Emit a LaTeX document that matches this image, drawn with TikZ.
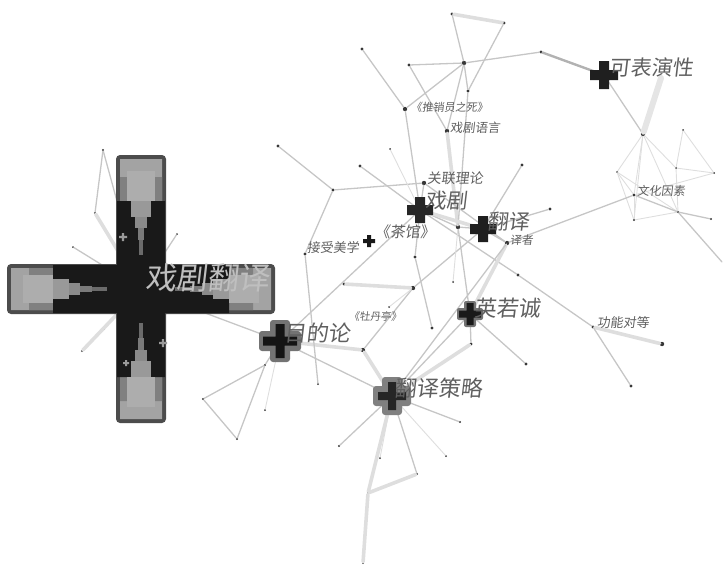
\documentclass[tikz,border=0pt]{standalone}
\usepackage{fontspec}
\newfontfamily\cjk[FakeSlant=0.12]{Noto Sans CJK SC}
\definecolor{Linkgray}{RGB}{198,198,198}
\definecolor{Bandgray}{RGB}{222,222,222}
\definecolor{Dotgray}{RGB}{55,55,55}
\definecolor{Labelgray}{RGB}{95,95,95}
% plus-shaped marker: centre, half length, half width, fill options
\newcommand{\citecross}[4]{\fill[#4] ([shift={(-#3,-#2)}]#1) rectangle ([shift={(#3,#2)}]#1) ([shift={(-#2,-#3)}]#1) rectangle ([shift={(#2,#3)}]#1);}

\begin{document}
\begin{tikzpicture}[x=1pt,y=-1pt,line cap=round,line join=round,
  dot/.style={circle,fill=Dotgray,inner sep=0pt,minimum size=3.2pt},
  bigdot/.style={dot,minimum size=4.4pt},
  link/.style={draw=Linkgray,line width=1.3pt},
  band/.style={draw=Bandgray,line width=3.6pt},
  faint/.style={draw=Bandgray,line width=0.9pt},
  lbl/.style={anchor=west,inner sep=0pt,text=Labelgray}]
\path[use as bounding box] (0,0) rectangle (725,565);

% cluster centres
\coordinate (big) at (141,289);
\coordinate (mudilun) at (280,341);
\coordinate (celue) at (392,396);
\coordinate (ying) at (470,314);
\coordinate (fanyi) at (483,229);
\coordinate (xiju) at (420,210);
\coordinate (biaoyan) at (604,75);
\coordinate (chaguan) at (369,241);
\coordinate (pma) at (123,237);
\coordinate (pmb) at (163,343);
\coordinate (pmc) at (126,363);

% keyword dots
\node[dot] (t1) at (452,14) {};
\node[dot] (t2) at (504,23) {};
\node[bigdot] (t3) at (464,63) {};
\node[dot] (t4) at (468,91) {};
\node[dot] (t5) at (409,65) {};
\node[dot] (t6) at (541,52) {};
\node[dot] (t7) at (362,49) {};
\node[bigdot] (tuixiao) at (405,109) {};
\node[bigdot] (xjyy) at (447,131) {};
\node[dot] (l1) at (278,146) {};
\node[dot] (l2) at (360,166) {};
\node[dot] (l3) at (333,190) {};
\node[dot,minimum size=2pt] (l4) at (390,149) {};
\node[bigdot] (glll) at (424,183) {};
\node[dot] (r1) at (522,165) {};
\node[dot] (r2) at (550,209) {};
\node[bigdot] (m1) at (458,227) {};
\node[bigdot] (yizhe) at (507,243) {};
\node[dot] (jsmx) at (305,254) {};
\node[dot] (c1) at (415,257) {};
\node[dot] (c2) at (518,275) {};
\node[dot,minimum size=2pt] (c3) at (453,282) {};
\node[dot] (c4) at (344,284) {};
\node[bigdot] (c5) at (413,288) {};
\node[dot,minimum size=2pt] (c6) at (389,307) {};
\node[dot] (c7) at (432,328) {};
\node[bigdot] (c8) at (363,350) {};
\node[dot] (c9) at (471,344) {};
\node[dot] (c10) at (526,364) {};
\node[dot] (gndd) at (593,327) {};
\node[bigdot] (g1) at (662,344) {};
\node[dot] (g2) at (631,386) {};
\node[bigdot] (w0) at (643,134) {};
\node[dot,minimum size=2pt] (w1) at (683,130) {};
\node[dot,minimum size=2pt] (w2) at (617,172) {};
\node[dot,minimum size=2pt] (w3) at (676,168) {};
\node[dot,minimum size=2pt] (w4) at (714,173) {};
\node[dot] (wenhua) at (634,195) {};
\node[dot,minimum size=2.4pt] (w5) at (634,220) {};
\node[dot,minimum size=2.4pt] (w6) at (678,212) {};
\node[dot,minimum size=2.4pt] (w7) at (711,219) {};
\coordinate (w8) at (722,262);
\node[dot,minimum size=2pt] (s1) at (318,384) {};
\node[dot,minimum size=2.4pt] (s2) at (460,422) {};
\node[dot,minimum size=2.4pt] (s3) at (339,446) {};
\node[dot,minimum size=2pt] (s4) at (380,458) {};
\node[dot,minimum size=2pt] (s5) at (446,456) {};
\node[dot,minimum size=2.4pt] (s6) at (417,474) {};
\node[dot,minimum size=2.4pt] (s7) at (368,493) {};
\node[dot,minimum size=2pt] (s8) at (363,563) {};
\node[dot,minimum size=2.4pt] (d1) at (265,365) {};
\node[dot,minimum size=2.4pt] (d2) at (203,399) {};
\node[dot,minimum size=2.4pt] (d3) at (237,439) {};
\node[dot,minimum size=2pt] (d4) at (265,410) {};
\node[dot,minimum size=2.4pt] (b1) at (103,150) {};
\node[dot,minimum size=2.4pt] (b2) at (95,213) {};
\node[dot,minimum size=2pt] (b3) at (73,247) {};
\node[dot,minimum size=2pt] (b4) at (177,234) {};
\node[dot,minimum size=2pt] (b5) at (104,329) {};
\node[dot,minimum size=2.4pt] (b6) at (82,351) {};

% links
\draw[band] (t1) -- (t2);
\draw[link] (t1) -- (t3);
\draw[link] (t3) -- (t4);
\draw[link] (t2) -- (t4);
\draw[link] (t3) -- (t5);
\draw[link] (t3) -- (t6);
\draw[band,draw=black!30,line width=2.4pt] (t6) -- (biaoyan);
\draw[link] (t5) -- (xjyy);
\draw[link] (t3) -- (tuixiao);
\draw[link] (t7) -- (tuixiao);
\draw[link] (tuixiao) -- (xiju);
\draw[link] (t3) -- (xjyy);
\draw[band] (xjyy) -- (m1);
\draw[link] (t4) -- (m1);
\draw[link] (biaoyan) -- (w0);
\draw[band,line width=6pt,draw=black!10] (661,78) -- (w0);
\draw[faint] (w0) -- (w2);
\draw[faint] (w0) -- (w3);
\draw[faint] (w0) -- (wenhua);
\draw[faint] (w0) -- (w5);
\draw[faint] (w0) -- (w6);
\draw[faint] (w1) -- (w4);
\draw[faint] (w1) -- (w3);
\draw[faint] (w2) -- (w6);
\draw[faint] (w2) -- (wenhua);
\draw[faint] (w3) -- (w6);
\draw[faint] (w3) -- (w4);
\draw[faint] (w4) -- (wenhua);
\draw[faint] (wenhua) -- (w5);
\draw[faint] (w5) -- (w6);
\draw[faint] (w2) -- (w5);
\draw[link] (wenhua) -- (w6);
\draw[link] (w6) -- (w7);
\draw[link] (w6) -- (w8);
\draw[link] (yizhe) -- (wenhua);
\draw[link] (r2) -- (fanyi);
\draw[link] (r1) -- (fanyi);
\draw[link] (fanyi) -- (yizhe);
\draw[link] (xiju) -- (m1);
\draw[link] (m1) -- (fanyi);
\draw[band] (xiju) -- (fanyi);
\draw[link] (glll) -- (xiju);
\draw[link] (glll) -- (yizhe);
\draw[link] (l1) -- (l3);
\draw[link] (l3) -- (glll);
\draw[link] (l3) -- (jsmx);
\draw[link] (l2) -- (xiju);
\draw[faint] (l4) -- (xiju);
\draw[link] (xiju) -- (c2);
\draw[link] (c2) -- (gndd);
\draw[band] (gndd) -- (g1);
\draw[link] (gndd) -- (g2);
\draw[link] (m1) -- (ying);
\draw[band] (yizhe) -- (ying);
\draw[link] (yizhe) -- (celue);
\draw[link] (c5) -- (fanyi);
\draw[band] (c4) -- (c5);
\draw[link] (c5) -- (c8);
\draw[link] (c1) -- (c7);
\draw[link] (c1) -- (xiju);
\draw[faint] (c6) -- (c5);
\draw[faint] (c3) -- (m1);
\draw[link] (mudilun) -- (xiju);
\draw[band] (mudilun) -- (c8);
\draw[link] (mudilun) -- (celue);
\draw[link] (mudilun) -- (big);
\draw[link] (mudilun) -- (d1);
\draw[link] (d1) -- (d2);
\draw[link] (d2) -- (d3);
\draw[link] (d3) -- (d1);
\draw[faint] (d4) -- (mudilun);
\draw[band] (c8) -- (celue);
\draw[band] (celue) -- (c9);
\draw[link] (c9) -- (ying);
\draw[link] (ying) -- (c10);
\draw[link] (ying) -- (celue);
\draw[link] (celue) -- (s2);
\draw[link] (celue) -- (s3);
\draw[faint] (celue) -- (s5);
\draw[link] (celue) -- (s6);
\draw[band] (celue) -- (s7);
\draw[band] (s6) -- (s7);
\draw[band] (s7) -- (s8);
\draw[faint] (s4) -- (celue);
\draw[link] (s1) -- (jsmx);
\draw[link] (b1) -- (b2);
\draw[link] (b1) -- (big);
\draw[band] (b2) -- (big);
\draw[link] (b3) -- (big);
\draw[link] (b4) -- (big);
\draw[link] (b5) -- (b6);
\draw[band] (b6) -- (big);

% big tree-ring cross
\citecross{big}{134}{25}{black!70,rounded corners=4pt}
\citecross{big}{130}{21}{black!36}
\citecross{big}{112}{21}{black!50}
\citecross{big}{88}{24}{black!90}
\foreach \r in {0,90,180,270}{
  \begin{scope}[shift={(big)},rotate=\r]
    \fill[black!32] (88,-14) rectangle (118,14);
    \fill[black!40] (72,-10) rectangle (88,10);
    \fill[black!46] (61,-6) rectangle (72,6);
    \fill[black!52] (49,-3) rectangle (61,3);
    \fill[black!58] (34,-2) rectangle (49,2);
  \end{scope}
}
\citecross{pma}{4}{1.2}{black!40}
\citecross{pmb}{4}{1.2}{black!40}
\citecross{pmc}{3}{1}{black!40}

% smaller crosses
\citecross{mudilun}{21}{10}{black!55,rounded corners=3pt}
\citecross{mudilun}{17}{4.5}{black!92}
\citecross{celue}{19}{10}{black!50,rounded corners=3pt}
\citecross{celue}{14}{4}{black!85}
\citecross{ying}{13}{6}{black!55,rounded corners=2pt}
\citecross{ying}{11}{3.5}{black!90}
\citecross{fanyi}{13}{5}{black!88}
\citecross{xiju}{13}{5}{black!85}
\citecross{biaoyan}{14}{5}{black!88}
\citecross{chaguan}{6}{2}{black!90}

% labels
\node[lbl,font=\cjk\fontsize{31}{31}\selectfont,text=black!25] (lbl-xjfy) at (145,278) {戏剧翻译};
\node[lbl,font=\cjk\fontsize{22}{22}\selectfont] (lbl-mudilun) at (284,333) {目的论};
\node[lbl,font=\cjk\fontsize{22}{22}\selectfont] (lbl-celue) at (394,388) {翻译策略};
\node[lbl,font=\cjk\fontsize{22}{22}\selectfont] (lbl-ying) at (474,308) {英若诚};
\node[lbl,font=\cjk\fontsize{21}{21}\selectfont] (lbl-fanyi) at (487,222) {翻译};
\node[lbl,font=\cjk\fontsize{21}{21}\selectfont] (lbl-xiju) at (425,201) {戏剧};
\node[lbl,font=\cjk\fontsize{21}{21}\selectfont] (lbl-biaoyan) at (609,67) {可表演性};
\node[lbl,font=\cjk\fontsize{15}{15}\selectfont] (lbl-chaguan) at (375,232) {《茶馆》};
\node[lbl,font=\cjk\fontsize{14}{14}\selectfont] (lbl-glll) at (427,178) {关联理论};
\node[lbl,font=\cjk\fontsize{11}{11}\selectfont] (lbl-tuixiao) at (411,107) {《推销员之死》};
\node[lbl,font=\cjk\fontsize{12.5}{12.5}\selectfont] (lbl-xjyy) at (450,128) {戏剧语言};
\node[lbl,font=\cjk\fontsize{13}{13}\selectfont] (lbl-jsmx) at (307,248) {接受美学};
\node[lbl,font=\cjk\fontsize{10.5}{10.5}\selectfont] (lbl-mdt) at (349,317) {《牡丹亭》};
\node[lbl,font=\cjk\fontsize{11.5}{11.5}\selectfont] (lbl-yizhe) at (510,240) {译者};
\node[lbl,font=\cjk\fontsize{12}{12}\selectfont] (lbl-wenhua) at (637,191) {文化因素};
\node[lbl,font=\cjk\fontsize{13}{13}\selectfont] (lbl-gndd) at (597,323) {功能对等};
\end{tikzpicture}
\end{document}
